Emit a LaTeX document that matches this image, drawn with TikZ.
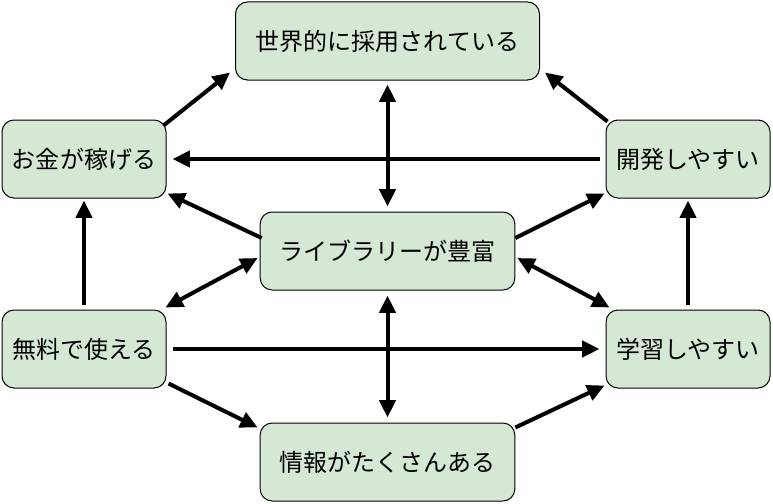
\documentclass[tikz,border=0pt]{standalone}
\usepackage{fontspec}
\newfontfamily\jpfont{Noto Sans CJK JP}
\usepackage{tikz}
\usetikzlibrary{arrows.meta,shapes}
\usetikzlibrary{calc}
\definecolor{boxgreen}{HTML}{D5E8D4}

\begin{document}
\begin{tikzpicture}[x=0.75pt, y=-0.75pt,
	box/.style={draw=black, line width=0.75pt, fill=boxgreen, rounded corners=9pt, minimum height=58.5pt, inner sep=0pt, font=\jpfont\fontsize{18}{21}\selectfont},
	smallbox/.style={box, minimum width=123pt},
	midbox/.style={box, minimum width=191pt},
	widebox/.style={box, minimum width=228pt},
	arr/.style={line width=3pt, -{Triangle[length=13pt,width=12pt]}},
	dbl/.style={line width=3pt, {Triangle[length=13pt,width=12pt]}-{Triangle[length=13pt,width=12pt]}}]
	\useasboundingbox (0,0) rectangle (773,503);

	\node[widebox] (world) at (387.5, 41) {世界的に採用されている};
	\node[smallbox] (money) at (84, 159) {お金が稼げる};
	\node[smallbox] (dev) at (688, 159) {開発しやすい};
	\node[midbox] (lib) at (387.5, 251) {ライブラリーが豊富};
	\node[smallbox] (free) at (84, 349) {無料で使える};
	\node[smallbox] (learn) at (688, 349) {学習しやすい};
	\node[midbox] (info) at (387.5, 462) {情報がたくさんある};

	\draw[arr] ($(money.north east)+(-3,6)$) -- ($(world.south west)+(-5,-8)$);
	\draw[arr] ($(dev.north west)+(2,2)$) -- ($(world.south east)+(5,-8)$);
	\draw[arr] ($(dev.west)+(-6,0)$) -- ($(money.east)+(6,0)$);
	\draw[dbl] ($(world.south)+(0,4)$) -- ($(lib.north)+(0,-5)$);
	\draw[arr] ($(lib.west)+(2,-13)$) -- ($(money.south east)+(1,-5)$);
	\draw[arr] ($(lib.east)+(0,-13)$) -- ($(dev.south west)+(-1,-5)$);
	\draw[arr] ($(free.north)+(0,-5)$) -- ($(money.south)+(0,2)$);
	\draw[arr] ($(learn.north)+(0,-5)$) -- ($(dev.south)+(0,2)$);
	\draw[dbl] ($(free.north east)+(-1,-2)$) -- ($(lib.west)+(-2,7)$);
	\draw[dbl] ($(lib.east)+(2,7)$) -- ($(learn.north west)+(4,-2)$);
	\draw[arr] ($(free.east)+(6,0)$) -- ($(learn.west)+(-6,0)$);
	\draw[dbl] ($(lib.south)+(0,5)$) -- ($(info.north)+(0,-5)$);
	\draw[arr] ($(free.south east)+(2,-5)$) -- ($(info.north west)+(-2,5)$);
	\draw[arr] ($(info.north east)+(0,5)$) -- ($(learn.south west)+(-1,-3)$);
\end{tikzpicture}
\end{document}
